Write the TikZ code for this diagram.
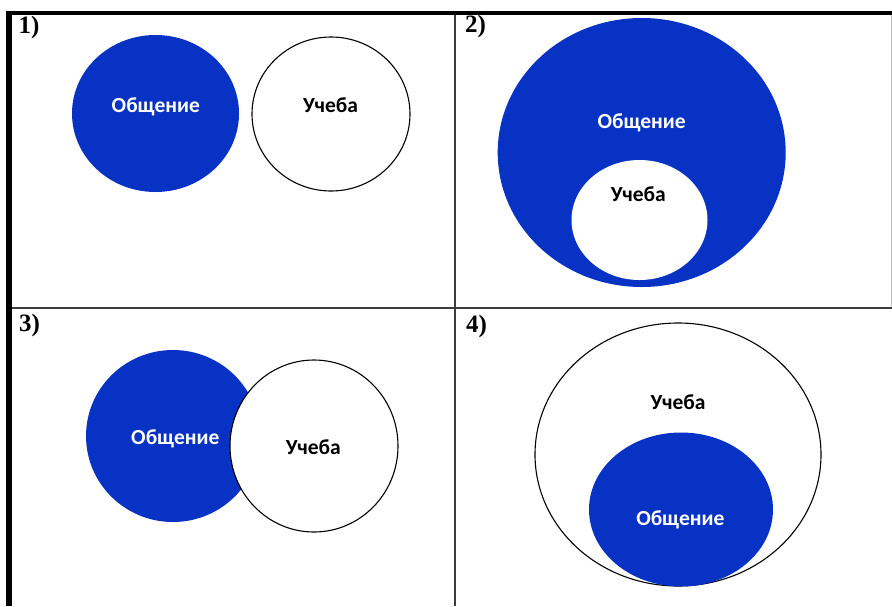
\documentclass[tikz,border=0pt]{standalone}
\usepackage{fontspec}
\setmainfont{Liberation Serif}
\newfontfamily\lblfont{Carlito}
\usetikzlibrary{shapes.geometric}
\definecolor{vblue}{RGB}{8,50,195}
\definecolor{gridgray}{RGB}{60,60,60}
\tikzset{
  blueell/.style={ellipse, fill=vblue, draw=none, inner sep=0pt},
  whiteell/.style={ellipse, fill=white, draw=black, line width=1.1pt, inner sep=0pt},
  innerwhite/.style={ellipse, fill=white, draw=none, inner sep=0pt},
  wlbl/.style={font=\lblfont\bfseries\fontsize{21.5}{25}\selectfont, text=white, anchor=base, inner sep=0pt},
  blbl/.style={font=\lblfont\bfseries\fontsize{21.5}{25}\selectfont, text=black, anchor=base, inner sep=0pt},
  numlbl/.style={font=\bfseries\fontsize{25}{28}\selectfont, anchor=base west, inner sep=0pt},
}
\begin{document}
\begin{tikzpicture}[x=1pt,y=-1pt]
\fill[white] (0,0) rectangle (892,606);
\useasboundingbox (0,0) rectangle (892,606);
% grid
\draw[gridgray, line width=1.5pt] (12,308) -- (892,308);
\draw[gridgray, line width=1.5pt] (455,15) -- (455,606);
\draw[black!25, line width=0.8pt] (891,15) -- (891,307);
% numbers
\node[numlbl] (n1) at (18.3,33.5) {1)};
\node[numlbl] (n2) at (465,32) {2)};
\node[numlbl] (n3) at (19,331) {3)};
\node[numlbl] (n4) at (466,332) {4)};
\fill[white] (0,0) rectangle (892,11);
\fill[black] (6,11) rectangle (892,15);
\fill[black] (6,11) rectangle (12,606);
% 1)
\node[blueell, minimum width=167pt, minimum height=157pt] (b1) at (155.5,113.5) {};
\node[whiteell, minimum width=158pt, minimum height=154pt] (w1) at (331,114) {};
\node[wlbl] (tb1) at (155.8,112.3) {Общение};
\node[blbl] (tw1) at (330.5,112) {Учеба};
% 2)
\node[blueell, minimum width=288pt, minimum height=269pt] (b2) at (641.7,152.5) {};
\node[innerwhite, minimum width=136pt, minimum height=120pt] (w2) at (639.5,220) {};
\node[wlbl] (tb2) at (641.7,128) {Общение};
\node[blbl] (tw2) at (638.3,201.5) {Учеба};
% 3)
\node[blueell, minimum width=174pt, minimum height=172pt] (b3) at (173,436) {};
\node[whiteell, minimum width=168pt, minimum height=172pt] (w3) at (314,446) {};
\node[wlbl] (tb3) at (175.3,444) {Общение};
\node[blbl] (tw3) at (313.3,454) {Учеба};
% 4)
\node[whiteell, minimum width=286pt, minimum height=263pt] (w4) at (678,454.5) {};
\node[blueell, minimum width=184pt, minimum height=154pt] (b4) at (681,509.5) {};
\node[blbl] (tw4) at (678,409) {Учеба};
\node[wlbl] (tb4) at (680.3,525) {Общение};
\end{tikzpicture}
\end{document}
